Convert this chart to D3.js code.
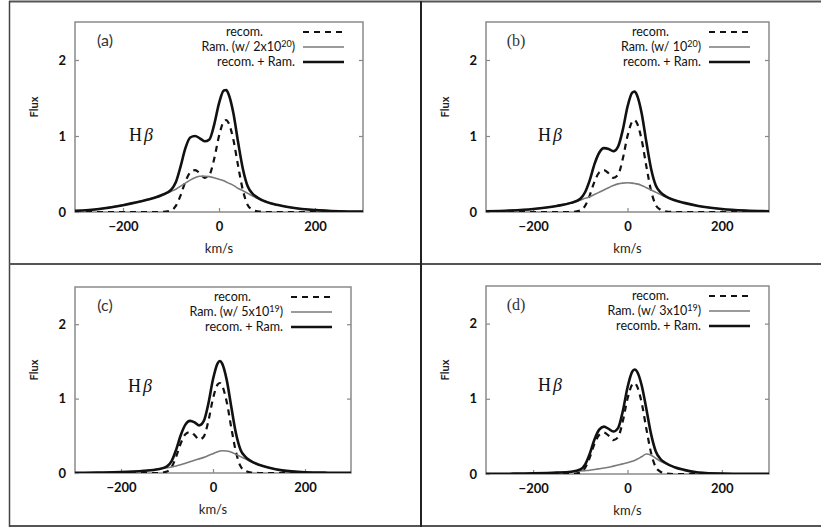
<!DOCTYPE html>
<html>
<head>
<meta charset="utf-8">
<script src="https://cdn.jsdelivr.net/npm/d3@7"></script>
<style>
  body { margin: 0; background: #fff; }
  svg { display: block; }
</style>
</head>
<body>
<div id="chart"></div>
<script>
// velocity grid (km/s) shared by all curves
var velocity = [-300, -250, -200, -150, -120, -100, -90, -80, -70, -60, -50, -40, -30, -20, -10,
                0, 10, 15, 20, 30, 40, 50, 60, 70, 80, 100, 120, 150, 200, 250, 300];

// recombination profile (same in every panel)
var recom = [0, 0, 0, 0, 0, 0.02, 0.08, 0.22, 0.40, 0.52, 0.55, 0.51, 0.45, 0.49, 0.70,
             1.00, 1.19, 1.21, 1.17, 0.95, 0.60, 0.28, 0.09, 0.03, 0.01, 0, 0, 0, 0, 0, 0];

// Raman scattered component
var ramA = [0.015, 0.04, 0.09, 0.16, 0.22, 0.27, 0.30, 0.34, 0.38, 0.42, 0.45, 0.47, 0.47, 0.465, 0.45,
            0.43, 0.41, 0.395, 0.38, 0.35, 0.31, 0.28, 0.245, 0.21, 0.18, 0.13, 0.095, 0.06, 0.025, 0.01, 0.005];
var ramB = [0.01, 0.02, 0.04, 0.08, 0.12, 0.155, 0.18, 0.20, 0.23, 0.26, 0.29, 0.32, 0.35, 0.37, 0.38,
            0.385, 0.38, 0.375, 0.37, 0.35, 0.32, 0.29, 0.26, 0.23, 0.20, 0.155, 0.12, 0.08, 0.04, 0.02, 0.01];
var ramC = [0.003, 0.006, 0.012, 0.03, 0.05, 0.07, 0.08, 0.095, 0.11, 0.13, 0.15, 0.17, 0.19, 0.21, 0.235,
            0.26, 0.285, 0.295, 0.30, 0.295, 0.28, 0.25, 0.22, 0.19, 0.16, 0.11, 0.075, 0.035, 0.01, 0.004, 0.002];
var ramD = [0.002, 0.004, 0.008, 0.018, 0.03, 0.04, 0.045, 0.05, 0.06, 0.07, 0.08, 0.09, 0.105, 0.12, 0.135,
            0.15, 0.17, 0.18, 0.195, 0.23, 0.265, 0.25, 0.21, 0.17, 0.14, 0.09, 0.055, 0.02, 0.006, 0.003, 0.001];

// recom. + Ram.
var totA = [0.015, 0.04, 0.09, 0.16, 0.22, 0.29, 0.39, 0.60, 0.84, 0.98, 1.00, 0.97, 0.93, 0.955, 1.15,
            1.43, 1.60, 1.605, 1.55, 1.30, 0.91, 0.56, 0.335, 0.24, 0.19, 0.13, 0.095, 0.06, 0.025, 0.01, 0.005];
var totB = [0.01, 0.02, 0.04, 0.08, 0.12, 0.175, 0.26, 0.42, 0.63, 0.78, 0.84, 0.83, 0.80, 0.86, 1.08,
            1.385, 1.57, 1.585, 1.54, 1.30, 0.92, 0.57, 0.35, 0.26, 0.21, 0.155, 0.12, 0.08, 0.04, 0.02, 0.01];
var totC = [0.003, 0.006, 0.012, 0.03, 0.05, 0.09, 0.16, 0.315, 0.51, 0.65, 0.70, 0.68, 0.64, 0.70, 0.935,
            1.26, 1.475, 1.505, 1.47, 1.245, 0.88, 0.53, 0.31, 0.22, 0.17, 0.11, 0.075, 0.035, 0.01, 0.004, 0.002];
var totD = [0.002, 0.004, 0.008, 0.018, 0.03, 0.06, 0.125, 0.27, 0.46, 0.59, 0.63, 0.60, 0.565, 0.61, 0.835,
            1.15, 1.36, 1.39, 1.365, 1.18, 0.865, 0.53, 0.30, 0.20, 0.15, 0.09, 0.055, 0.02, 0.006, 0.003, 0.001];

var xTicks = [-200, 0, 200];
var yTicks = [0, 1, 2];
var panelNames = ["(a)", "(b)", "(c)", "(d)"];
var ramBase = ["2x10", "10", "5x10", "3x10"];
var ramExp = ["20", "20", "19", "19"];
var sumNames = ["recom. + Ram.", "recom. + Ram.", "recom. + Ram.", "recomb. + Ram."];
var rams = [ramA, ramB, ramC, ramD];
var tots = [totA, totB, totC, totD];

var width = 821, height = 530;

// frame of every panel
var layout = [
  {left: 75,  right: 363, top: 22,  bottom: 212, serif: false, hb: [54, 119]},
  {left: 486, right: 769, top: 22,  bottom: 212, serif: true,  hb: [52, 119]},
  {left: 75,  right: 351, top: 287, bottom: 473, serif: false, hb: [53, 105]},
  {left: 486, right: 769, top: 286, bottom: 474, serif: true,  hb: [52, 105]}
];

var svg = d3.select("#chart").append("svg")
    .attr("width", width)
    .attr("height", height);

// outer box and dividers
var box = svg.append("g").attr("fill", "none");
box.append("line").attr("x1", 9).attr("x2", 821).attr("y1", 1.5).attr("y2", 1.5).attr("stroke", "#555").attr("stroke-width", 2);
box.append("line").attr("x1", 9).attr("x2", 821).attr("y1", 526).attr("y2", 526).attr("stroke", "#555").attr("stroke-width", 2);
box.append("line").attr("x1", 9.5).attr("x2", 9.5).attr("y1", 1).attr("y2", 527).attr("stroke", "#444").attr("stroke-width", 1.5);
box.append("line").attr("x1", 9).attr("x2", 821).attr("y1", 264).attr("y2", 264).attr("stroke", "#555").attr("stroke-width", 2);
box.append("line").attr("x1", 421).attr("x2", 421).attr("y1", 1).attr("y2", 527).attr("stroke", "#222").attr("stroke-width", 2);

layout.forEach(function(p, i) {
  var x = d3.scaleLinear().domain([-300, 300]).range([p.left, p.right]);
  var y = d3.scaleLinear().domain([0, 2.5]).range([p.bottom, p.top]);
  var g = svg.append("g");

  g.append("clipPath").attr("id", "clip" + i)
    .append("rect")
      .attr("x", p.left).attr("y", p.top)
      .attr("width", p.right - p.left).attr("height", p.bottom - p.top);

  // axes
  var yAxis = g.append("g")
      .attr("transform", "translate(" + p.left + ",0)")
      .call(d3.axisLeft(y).tickValues(yTicks).tickFormat(d3.format("d")).tickSizeInner(-4).tickSizeOuter(0).tickPadding(9));
  var xAxis = g.append("g")
      .attr("transform", "translate(0," + p.bottom + ")")
      .call(d3.axisBottom(x).tickValues(xTicks).tickSizeInner(-4).tickSizeOuter(0).tickPadding(10));
  var rAxis = g.append("g")
      .attr("transform", "translate(" + p.right + ",0)")
      .call(d3.axisRight(y).tickValues([1, 2]).tickFormat("").tickSizeInner(-4).tickSizeOuter(0));
  [yAxis, xAxis, rAxis].forEach(function(a) {
    a.select(".domain").remove();
    a.selectAll(".tick line").attr("stroke", "#888").attr("stroke-width", 1.2);
    a.selectAll(".tick text")
      .attr("fill", "#111")
      .style("font-family", "Lato, 'Open Sans', sans-serif")
      .style("font-weight", "bold")
      .style("font-size", "13px");
  });

  // frame
  g.append("rect")
    .attr("x", p.left).attr("y", p.top)
    .attr("width", p.right - p.left).attr("height", p.bottom - p.top)
    .attr("fill", "none")
    .attr("stroke", "#8a8a8a")
    .attr("stroke-width", 1.5);

  var line = d3.line()
    .x(function(d, j) { return x(velocity[j]); })
    .y(function(d) { return y(d); })
    .curve(d3.curveMonotoneX);

  var curves = g.append("g").attr("clip-path", "url(#clip" + i + ")").attr("fill", "none");
  curves.append("path")
    .attr("d", line(recom))
    .attr("stroke", "#111")
    .attr("stroke-width", 2.2)
    .attr("stroke-dasharray", "6,5");
  curves.append("path")
    .attr("d", line(rams[i]))
    .attr("stroke", "#7a7a7a")
    .attr("stroke-width", 1.6);
  curves.append("path")
    .attr("d", line(tots[i]))
    .attr("stroke", "#111")
    .attr("stroke-width", 2.6)
    .attr("stroke-linejoin", "round");

  // axis titles
  g.append("text")
    .attr("transform", "translate(" + (p.left - 41) + "," + ((p.top + p.bottom) / 2 - 10) + ") rotate(-90)")
    .attr("text-anchor", "middle")
    .attr("dy", "0.35em")
    .style("font-family", "Lato, 'Open Sans', sans-serif")
    .style("font-weight", "bold")
    .style("font-size", "11px")
    .attr("fill", "#222")
    .text("Flux");
  g.append("text")
    .attr("x", x(0))
    .attr("y", p.bottom + 36)
    .attr("dy", "0.35em")
    .attr("text-anchor", "middle")
    .style("font-family", "Lato, 'Open Sans', sans-serif")
    .style("font-size", "13px")
    .attr("fill", "#222")
    .text("km/s");

  // panel name
  g.append("text")
    .attr("x", p.left + 30)
    .attr("y", p.top + 24)
    .attr("text-anchor", "middle")
    .style("font-family", p.serif ? "'Liberation Serif', serif" : "Lato, 'Open Sans', sans-serif")
    .style("font-size", "16px")
    .attr("fill", "#333")
    .text(panelNames[i]);

  // H beta
  var hb = g.append("text")
    .attr("x", p.left + p.hb[0])
    .attr("y", p.top + p.hb[1])
    .style("font-family", "'Liberation Serif', 'DejaVu Serif', serif")
    .style("font-size", "18px")
    .attr("fill", "#111");
  hb.append("tspan").text("H");
  hb.append("tspan").attr("dx", 2).style("font-style", "italic").text("\u03b2");

  // legend
  var lg = g.append("g")
    .style("font-family", "Lato, 'Open Sans', sans-serif")
    .style("font-size", "12.5px")
    .attr("fill", "#111");
  var rows = [p.top + 10, p.top + 25, p.top + 40];
  var tx = p.right - 68;
  lg.append("text").attr("x", tx - 32).attr("y", rows[0]).attr("dy", "0.35em")
    .attr("text-anchor", "end").text("recom.");
  var rt = lg.append("text").attr("x", tx).attr("y", rows[1]).attr("dy", "0.35em")
    .attr("text-anchor", "end");
  rt.append("tspan").text("Ram. (w/ " + ramBase[i]);
  rt.append("tspan").attr("dy", -4).style("font-size", "9px").text(ramExp[i]);
  rt.append("tspan").attr("dy", 4).text(")");
  lg.append("text").attr("x", tx).attr("y", rows[2]).attr("dy", "0.35em")
    .attr("text-anchor", "end").text(sumNames[i]);

  var lx1 = p.right - 60, lx2 = p.right - 19;
  lg.append("line").attr("x1", lx1).attr("x2", lx2).attr("y1", rows[0]).attr("y2", rows[0])
    .attr("stroke", "#111").attr("stroke-width", 2.2).attr("stroke-dasharray", "6,5");
  lg.append("line").attr("x1", lx1).attr("x2", lx2).attr("y1", rows[1]).attr("y2", rows[1])
    .attr("stroke", "#7a7a7a").attr("stroke-width", 1.6);
  lg.append("line").attr("x1", lx1).attr("x2", lx2).attr("y1", rows[2]).attr("y2", rows[2])
    .attr("stroke", "#111").attr("stroke-width", 2.6);
});
</script>
</body>
</html>
